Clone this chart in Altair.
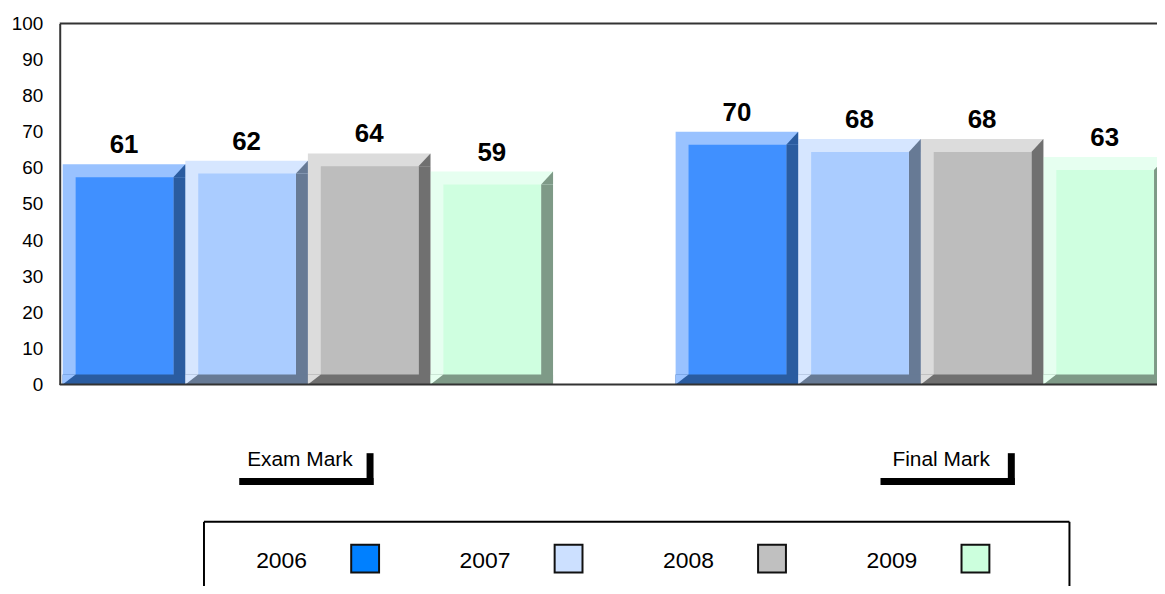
import altair as alt
import pandas as pd

# ---------------- data ----------------
categories = ["Exam Mark", "Final Mark"]
years = ["2006", "2007", "2008", "2009"]
exam_mark = [61, 62, 64, 59]
final_mark = [70, 68, 68, 63]
y_ticks = [0, 10, 20, 30, 40, 50, 60, 70, 80, 90, 100]

# ---------------- styles ----------------
face_colors = ["#4090FF", "#AACCFF", "#BDBDBD", "#CFFFE0"]
light_colors = ["#99C2FF", "#D6E6FF", "#DCDCDC", "#E6FFF0"]
dark_colors = ["#2A5CA0", "#677A95", "#707070", "#7E9A87"]
legend_colors = ["#0080FF", "#CCE0FF", "#C0C0C0", "#CCFFDD"]
label_shift = {"Exam Mark": -1.5, "Final Mark": 27}
FONT = "Liberation Sans"

rows = []
for cat, vals in zip(categories, [exam_mark, final_mark]):
    for yr, v in zip(years, vals):
        rows.append({"cat": cat, "year": yr, "key": cat + "|" + yr, "value": v})
df = pd.DataFrame(rows)
cat_df = pd.DataFrame({"cat": categories, "key": [c + "|" + years[1] for c in categories]})
leg_df = pd.DataFrame({"year": years})

# x domain: the bars of each group, with one empty slot between the groups
x_domain = [c + "|" + y for y in years for c in categories[:1]] + ["gap"] + \
           [c + "|" + y for y in years for c in categories[1:]]

PLOT_W, PLOT_H = 1103, 363
RANGE = [3, 1112]
STEP = (RANGE[1] - RANGE[0]) / len(x_domain)
HALF = STEP / 2

x_enc = alt.X("key:N", scale=alt.Scale(domain=x_domain, range=RANGE,
                                        paddingInner=0, paddingOuter=0), axis=None)
y_scale = alt.Scale(domain=[0, 100], nice=False, zero=True)
y_axis = alt.Axis(values=y_ticks, title=None, grid=False, ticks=False,
                  labelPadding=17, labelFontSize=19, labelFont=FONT,
                  labelColor="#000", domainColor="#333", domainWidth=2,
                  labelFlush=False, labelOverlap=False, tickCount=11)
y_enc = alt.Y("value:Q", scale=y_scale, axis=y_axis)


def y_at(v):
    return alt.YDatum(v, type="quantitative", scale=y_scale, axis=y_axis)


def col(rng):
    return alt.Color("year:N", scale=alt.Scale(domain=years, range=rng), legend=None)


base = alt.Chart(df).encode(x=x_enc)

light_full = base.mark_bar(clip=True).encode(y=y_enc, color=col(light_colors))
dark_right = base.mark_bar(clip=True, width=12, xOffset=HALF - 6, yOffset=13).encode(
    y=y_enc, color=col(dark_colors))
dark_corner = base.mark_point(clip=True, shape="M1,-1.08L1,1.08L-1,1.08Z", size=144,
                              filled=True, opacity=1, strokeWidth=0,
                              xOffset=HALF - 6, yOffset=6.5).encode(y=y_enc, color=col(dark_colors))
face = base.mark_bar(clip=True, width=STEP - 25, xOffset=0.5, yOffset=13).encode(
    y=y_enc, color=col(face_colors))
dark_bottom = base.mark_bar(clip=True, yOffset=-10).encode(
    y=y_at(0), y2=alt.Y2Datum(0), color=col(dark_colors))
light_corner = base.mark_point(clip=True, shape="M-1,-0.77L1,-0.77L-1,0.77Z", size=169,
                               filled=True, opacity=1, strokeWidth=0,
                               xOffset=-HALF + 6.5, yOffset=-5).encode(
    y=y_at(0), color=col(light_colors))
values = base.mark_text(font=FONT, fontSize=26, fontWeight="bold", dy=-11,
                        baseline="alphabetic", color="#000").encode(y=y_enc, text="value:Q")

one = alt.Data(values=[{}])
top_rule = alt.Chart(one).mark_rule(color="#333", strokeWidth=2).encode(y=y_at(100))
bottom_rule = alt.Chart(one).mark_rule(color="#333", strokeWidth=2).encode(y=y_at(0))

cat_layers = []
for c in categories:
    o = HALF + label_shift[c]
    src = alt.Chart(cat_df).transform_filter(alt.datum.cat == c)
    cat_layers.append(src.mark_text(font=FONT, fontSize=21, baseline="alphabetic",
                                    align="center", color="#000", xOffset=o - 6.5)
                      .encode(x=x_enc, y=alt.value(445), text="cat:N"))
    cat_layers.append(src.mark_bar(width=135, xOffset=o, color="#000")
                      .encode(x=x_enc, y=alt.value(457), y2=alt.value(464)))
    cat_layers.append(src.mark_bar(width=7, xOffset=o + 64, color="#000")
                      .encode(x=x_enc, y=alt.value(432), y2=alt.value(464)))

main = alt.layer(light_full, dark_right, dark_corner, face, dark_bottom, light_corner,
                 values, top_rule, bottom_rule, *cat_layers).resolve_scale(color="independent")

# ---------------- legend ----------------
lx = alt.X("year:N", scale=alt.Scale(type="point", domain=years, range=[265, 878.5], padding=0),
           axis=None)
box_top = alt.Chart(one).mark_rule(color="#000", strokeWidth=2).encode(
    x=alt.value(145), x2=alt.value(1015), y=alt.value(501))
box_left = alt.Chart(one).mark_rule(color="#000", strokeWidth=2).encode(
    x=alt.value(145), y=alt.value(501), y2=alt.value(600))
box_right = alt.Chart(one).mark_rule(color="#000", strokeWidth=2).encode(
    x=alt.value(1015), y=alt.value(501), y2=alt.value(600))
leg_text = alt.Chart(leg_df).mark_text(font=FONT, fontSize=23, baseline="alphabetic",
                                       align="center", color="#000", xOffset=-42).encode(
    x=lx, y=alt.value(547), text="year:N")
leg_sw = alt.Chart(leg_df).mark_square(size=784, filled=True, opacity=1, stroke="#111",
                                       strokeWidth=2, xOffset=42).encode(
    x=lx, y=alt.value(538), color=col(legend_colors))
legend = alt.layer(box_top, box_left, box_right, leg_text, leg_sw)

chart = alt.layer(main, legend).resolve_scale(x="independent", color="independent").properties(
    width=PLOT_W, height=PLOT_H,
    autosize=alt.AutoSizeParams(type="none"),
    padding={"left": 52, "top": 14, "right": 0, "bottom": 201},
    background="white",
).configure_view(stroke=None).configure_axisY(labelOverlap=False)

chart.save("out.html", embed_options={"renderer": "svg", "actions": False})
